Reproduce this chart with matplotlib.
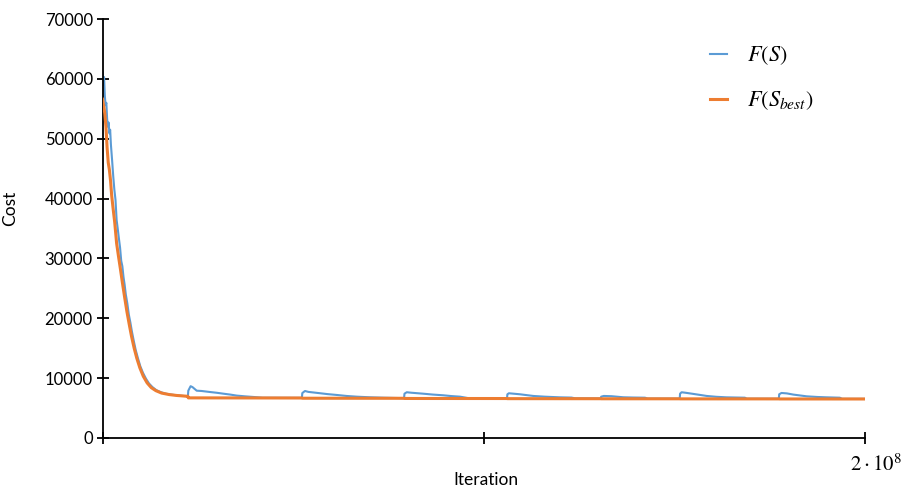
import matplotlib
matplotlib.use("Agg")
import matplotlib.pyplot as plt

plt.rcParams["font.family"] = ["Lato", "DejaVu Sans"]
plt.rcParams["mathtext.fontset"] = "stix"

# Iterations in millions
iter_current = [
    0.0, 0.2, 0.4, 0.6, 0.8, 1.0, 1.2, 1.4, 1.6, 1.8, 2.0, 2.2, 2.5, 2.8, 3.1,
    3.4, 3.7, 4.0, 4.3, 4.6, 4.9, 5.2, 5.5, 5.8, 6.1, 6.5, 6.9, 7.3, 7.7, 8.2,
    8.7, 9.3, 9.9, 10.6, 11.4, 12.2, 13.1, 14.1, 15.3, 16.6, 18.0, 19.6, 21.2, 22.4,
    22.5, 23.1, 23.6, 24.7, 26.0, 28.2, 30.0, 31.7, 33.5, 35.2, 37.5, 39.6, 42.0, 52.3,
    52.4, 53.1, 54.0, 57.0, 59.0, 61.4, 64.0, 66.7, 70.0, 73.6, 79.1,
    79.2, 79.8, 81.0, 84.1, 86.5, 89.4, 91.5, 93.8, 96.0, 106.1,
    106.2, 106.6, 109.5, 111.0, 113.0, 116.0, 120.0, 123.0, 124.0, 130.7,
    130.8, 131.5, 133.5, 136.6, 139.0, 142.3, 143.0, 151.4,
    151.5, 151.9, 153.0, 155.0, 158.5, 161.0, 163.7, 168.5, 169.0, 177.4,
    177.5, 178.1, 179.5, 181.2, 184.7, 187.5, 190.0, 193.4, 194.0, 200.0,
]
cost_current = [
    61200, 59000, 60300, 57200, 55600, 56000, 53400, 52000, 52700, 50900, 51500, 49000, 46500, 43800, 41500,
    39800, 36400, 34900, 33300, 31800, 29600, 28700, 26900, 25600, 24000, 22500, 20600, 19300, 17800, 16200,
    14700, 13300, 12000, 10900, 9900, 9100, 8500, 8000, 7650, 7400, 7250, 7120, 7020, 6970,
    7900, 8650, 8500, 7900, 7850, 7680, 7550, 7400, 7250, 7080, 6950, 6850, 6720, 6700,
    7500, 7850, 7700, 7480, 7330, 7190, 7020, 6900, 6800, 6730, 6650,
    7400, 7640, 7560, 7400, 7260, 7130, 7000, 6900, 6650, 6620,
    7300, 7470, 7300, 7180, 7020, 6900, 6790, 6750, 6620, 6600,
    6900, 7020, 6980, 6800, 6760, 6730, 6580, 6570,
    7400, 7640, 7550, 7360, 7020, 6880, 6790, 6730, 6560, 6550,
    7300, 7520, 7450, 7250, 6960, 6850, 6790, 6730, 6540, 6530,
]

iter_best = [
    0.0, 0.3, 0.6, 0.9, 1.2, 1.5, 1.8, 2.1, 2.4, 2.8, 3.2, 3.7, 4.2, 4.7, 5.2,
    5.8, 6.4, 7.0, 7.6, 8.3, 9.0, 9.8, 10.7, 11.7, 12.8, 14.0, 15.5, 17.5, 19.5,
    22.4, 22.5, 52.3, 52.4, 79.1, 79.2, 106.1, 106.2, 130.7, 130.8, 151.4, 151.5,
    177.4, 177.5, 200.0,
]
cost_best = [
    56600, 55500, 54200, 52000, 48500, 46000, 44800, 43000, 40500, 38200, 36000, 32500, 30300, 28200, 26000,
    23500, 21100, 19000, 17000, 15000, 13300, 11700, 10300, 9200, 8400, 7900, 7500, 7250, 7100,
    6960, 6700, 6680, 6640, 6630, 6600, 6590, 6570, 6560, 6550, 6545, 6535,
    6530, 6520, 6515,
]

y_ticks = [0, 10000, 20000, 30000, 40000, 50000, 60000, 70000]
x_ticks = [0, 1e8, 2e8]

BLUE = "#5B9BD5"
ORANGE = "#ED7D31"

fig = plt.figure(figsize=(9.13, 4.95), dpi=100)
ax = fig.add_axes([0.1123, 0.1152, 0.8351, 0.8464])

ax.plot([x * 1e6 for x in iter_current], cost_current, color=BLUE, lw=1.5,
        label=r"$F(S)$", zorder=2)
ax.plot([x * 1e6 for x in iter_best], cost_best, color=ORANGE, lw=2.2,
        label=r"$F(S_{best})$", zorder=3)

ax.set_xlim(0, 2e8)
ax.set_ylim(0, 70000)
ax.set_yticks(y_ticks)
ax.set_yticklabels([str(v) for v in y_ticks])
ax.set_xticks(x_ticks)
ax.set_xticklabels(["", "", ""])

for side in ("top", "right"):
    ax.spines[side].set_visible(False)
for side in ("left", "bottom"):
    ax.spines[side].set_linewidth(1.3)
    ax.spines[side].set_color("black")
ax.tick_params(axis="both", direction="inout", length=8, width=1.3,
               labelsize=12, pad=3, colors="black")

ax.text(1.0144, -0.062, r"$2\cdot10^8$", transform=ax.transAxes,
        ha="center", va="center", fontsize=15)
ax.text(0.503, -0.100, "Iteration", transform=ax.transAxes,
        ha="center", va="center", fontsize=12.5)
ax.set_ylabel("Cost", fontsize=12.5)
ax.yaxis.set_label_coords(-0.111, 0.547)

leg = ax.legend(loc="upper left", bbox_to_anchor=(0.756, 0.950),
                bbox_transform=fig.transFigure, frameon=False, fontsize=16,
                handlelength=0.75, handletextpad=0.9, labelspacing=1.0)

fig.savefig("out.png", dpi=100)
